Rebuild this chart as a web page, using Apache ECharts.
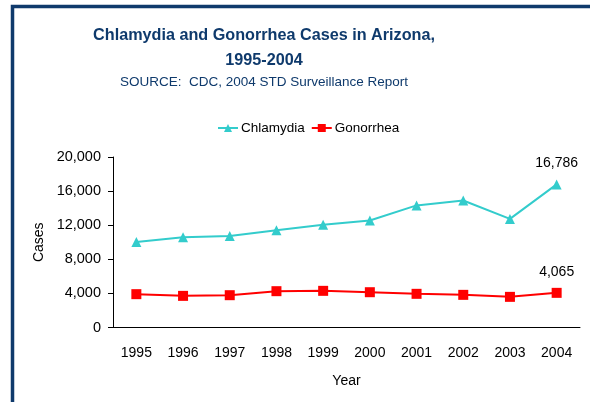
<!DOCTYPE html>
<html>
<head>
<meta charset="utf-8">
<script src="https://cdn.jsdelivr.net/npm/echarts@6/dist/echarts.min.js"></script>
<style>
  html, body { margin: 0; padding: 0; background: #fff; }
  #chart { width: 590px; height: 402px; }
</style>
</head>
<body>
<div id="chart"></div>
<script>
const years = ['1995', '1996', '1997', '1998', '1999', '2000', '2001', '2002', '2003', '2004']
const chlamydia = [10040, 10590, 10740, 11410, 12040, 12550, 14320, 14900, 12740, 16786]
const gonorrhea = [3910, 3710, 3790, 4260, 4300, 4140, 3950, 3830, 3595, 4065]
const yTicks = [0, 4000, 8000, 12000, 16000, 20000]

const navy = '#0f3a6c'
const fmt = v => Number(v).toLocaleString('en-US')
const font = 'Liberation Sans, Arial, sans-serif'

// only the last point carries a value label
const withLastLabel = arr => arr.map((v, i) => ({
  value: v,
  label: { show: i === arr.length - 1 }
}))

const chart = echarts.init(document.getElementById('chart'))

chart.setOption({
  animation: false,
  textStyle: { fontFamily: font },
  title: [
    {
      text: 'Chlamydia and Gonorrhea Cases in Arizona,\n1995-2004',
      left: 259,
      top: 18,
      textAlign: 'center',
      textStyle: { fontSize: 16.2, fontWeight: 'bold', color: navy, lineHeight: 25, fontFamily: font }
    },
    {
      text: 'SOURCE:  CDC, 2004 STD Surveillance Report',
      left: 259,
      top: 70,
      textAlign: 'center',
      textStyle: { fontSize: 13.5, fontWeight: 'normal', color: navy, fontFamily: font }
    }
  ],
  legend: {
    left: 212,
    top: 116,
    itemWidth: 20,
    itemHeight: 10,
    itemGap: 6,
    textStyle: { fontSize: 13.5, color: '#000', padding: [0, 0, 0, -2] },
    data: ['Chlamydia', 'Gonorrhea']
  },
  grid: { left: 113, right: 10, top: 157, bottom: 74.5 },
  xAxis: {
    type: 'category',
    data: years,
    name: 'Year',
    nameLocation: 'middle',
    nameGap: 47,
    nameTextStyle: { fontSize: 14, color: '#000' },
    axisLine: { lineStyle: { color: '#000', width: 1 } },
    axisTick: { length: 5, lineStyle: { color: '#000' } },
    axisLabel: { fontSize: 14, color: '#000', margin: 19 }
  },
  yAxis: {
    type: 'value',
    min: yTicks[0],
    max: yTicks[yTicks.length - 1],
    interval: yTicks[1] - yTicks[0],
    name: 'Cases',
    nameLocation: 'middle',
    nameGap: 67,
    nameTextStyle: { fontSize: 14, color: '#000' },
    axisLine: { show: true, lineStyle: { color: '#000', width: 1 } },
    axisTick: { show: true, length: 5, lineStyle: { color: '#000' } },
    axisLabel: { fontSize: 14.5, color: '#000', margin: 12, formatter: fmt },
    splitLine: { show: false }
  },
  series: [
    {
      name: 'Chlamydia',
      type: 'line',
      data: withLastLabel(chlamydia),
      symbol: 'triangle',
      symbolSize: 10,
      itemStyle: { color: '#33cccc' },
      lineStyle: { color: '#33cccc', width: 2 },
      label: { position: 'top', distance: 9, fontSize: 14, color: '#000', formatter: p => fmt(p.value) }
    },
    {
      name: 'Gonorrhea',
      type: 'line',
      data: withLastLabel(gonorrhea),
      symbol: 'rect',
      symbolSize: 10,
      itemStyle: { color: '#ff0000' },
      lineStyle: { color: '#ff0000', width: 2 },
      label: { position: 'top', distance: 9, fontSize: 14, color: '#000', formatter: p => fmt(p.value) }
    }
  ],
  graphic: [
    {
      type: 'polyline',
      silent: true,
      shape: { points: [[12.5, 402], [12.5, 6.5], [590, 6.5]] },
      style: { stroke: navy, lineWidth: 3.5, fill: null }
    }
  ]
})
</script>
</body>
</html>
